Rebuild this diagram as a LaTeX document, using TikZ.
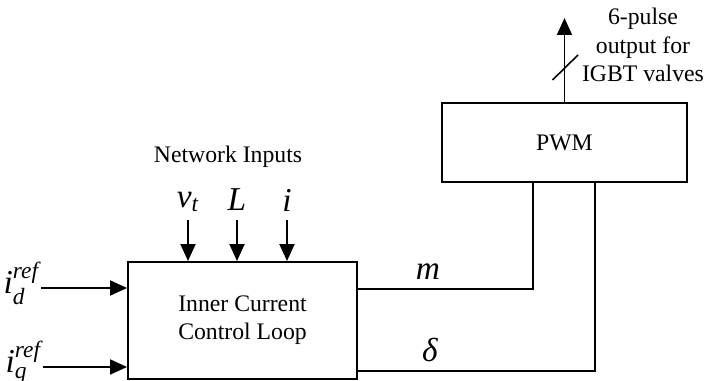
\documentclass[tikz,border=0pt]{standalone}
\usepackage{amsmath}
\usepackage{fontspec}
\setmainfont{Liberation Serif}
\usepackage{tikz}
\usetikzlibrary{arrows.meta,calc}
\newcommand{\vr}[1]{\textit{#1}}

\begin{document}
\begin{tikzpicture}[
  x=0.02cm,y=-0.02cm,
  font=\fontsize{13.5}{16}\selectfont,
  blk/.style={draw,line width=1.1pt,inner sep=0pt,align=center},
  sym/.style={font=\fontsize{19}{21}\selectfont,inner sep=1pt},
  ln/.style={line width=1.1pt},
  arr/.style={ln,-{Triangle[length=3.4mm,width=3mm]}}]
\useasboundingbox (0,0) rectangle (707,381);
% blocks
\node[blk,minimum width=229*0.02cm,minimum height=117*0.02cm] (ctrl) at (242.5,320.5) {Inner Current\\ Control Loop};
\node[blk,minimum width=245*0.02cm,minimum height=79*0.02cm] (pwm) at (564.5,142.5) {PWM};
% network inputs
\node (net) at (228,157) {Network Inputs};
\node[sym] (vt) at (188,202) {$\vr{v}_{\vr{t}}$};
\node[sym] (L) at (237,200) {$\vr{L}$};
\node[sym] (ii) at (287,200) {$\vr{i}$};
\foreach \n in {vt,L,ii}
  \draw[arr] (\n |- 0,220) -- (\n |- ctrl.north);
% reference currents
\node[sym,anchor=east] (id) at (41,283) {$\vr{i}_{\vr{d}}^{\vr{ref}}$};
\node[sym,anchor=east] (iq) at (43,362) {$\vr{i}_{\vr{q}}^{\vr{ref}}$};
\draw[arr] (id.east |- 0,288) -- (ctrl.west |- 0,288);
\draw[arr] (iq.east |- 0,367) -- (ctrl.west |- 0,367);
% outputs to PWM
\coordinate (mc) at ($(pwm.south)+(-31.5,0)$);
\coordinate (dc) at ($(pwm.south)+(30.5,0)$);
\draw[ln] (ctrl.east |- 0,289) -| (mc);
\draw[ln] (ctrl.east |- 0,371) -| (dc);
\node[sym] (m) at (428,272) {$\vr{m}$};
\node[sym] (dl) at (430,350) {$\vr{δ}$};
% pulse output
\coordinate (top) at (564.5,18);
\draw[arr] (pwm.north) -- (top);
\draw[ln,line width=0.9pt] (552.5,80) -- (578,55);
\node[align=center,inner sep=0pt] (out) at (643,45) {6-pulse\\ output for\\ IGBT valves};
\end{tikzpicture}
\end{document}
